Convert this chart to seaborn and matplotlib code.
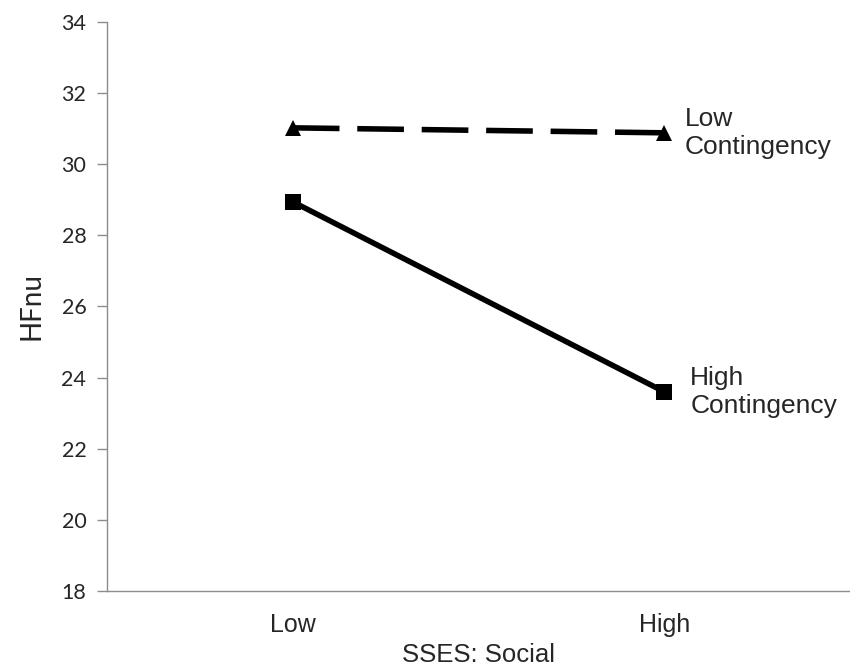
import matplotlib
matplotlib.use("Agg")
import matplotlib.pyplot as plt
import pandas as pd
import seaborn as sb

# data
sses_levels = ["Low", "High"]
low_contingency = [31.02, 30.88]
high_contingency = [28.94, 23.60]
group_names = ["Low\nContingency", "High\nContingency"]
y_ticks = [18, 20, 22, 24, 26, 28, 30, 32, 34]

rows = []
for level, lo, hi in zip(sses_levels, low_contingency, high_contingency):
    rows.append({"SSES": level, "HFnu": lo, "group": group_names[0]})
    rows.append({"SSES": level, "HFnu": hi, "group": group_names[1]})
df = pd.DataFrame(rows)

sb.set_style("white")
plt.rcParams["font.family"] = ["Liberation Sans", "DejaVu Sans"]

fig = plt.figure(figsize=(8.5, 6.68), dpi=100)
ax = fig.add_axes([0.126, 0.1153, 0.874, 0.852])

sb.lineplot(data=df, x="SSES", y="HFnu", hue="group", style="group",
            palette={group_names[0]: "black", group_names[1]: "black"},
            markers={group_names[0]: "^", group_names[1]: "s"},
            dashes={group_names[0]: (8.4, 3.2), group_names[1]: ""},
            linewidth=4, markersize=12, markeredgewidth=0,
            legend=False, ax=ax)

ax.set_xlim(-0.5, 1.5)
ax.set_ylim(18, 34)
ax.set_yticks(y_ticks)
ax.set_yticklabels([str(t) for t in y_ticks], family=["Lato", "DejaVu Sans"], fontsize=15.5)
ax.set_xticks([0, 1])
ax.set_xticklabels(sses_levels, fontsize=18)
ax.tick_params(axis="x", length=0, pad=16)
ax.tick_params(axis="y", length=7, width=1, color="#8c8c8c", direction="out", pad=8, left=True)

for side in ["top", "right"]:
    ax.spines[side].set_visible(False)
for side in ["left", "bottom"]:
    ax.spines[side].set_color("#8c8c8c")
    ax.spines[side].set_linewidth(1)

ax.set_xlabel("SSES: Social", fontsize=18.5, labelpad=4)
ax.set_ylabel("HFnu", family=["Lato", "DejaVu Sans"], fontsize=20, labelpad=12)

# series labels next to the High points
ax.text(1.056, low_contingency[1], group_names[0], fontsize=19, va="center", ha="left",
        linespacing=1.2)
ax.text(1.07, high_contingency[1], group_names[1], fontsize=19, va="center", ha="left",
        linespacing=1.2)

fig.savefig("out.png", dpi=100)
plt.close(fig)
